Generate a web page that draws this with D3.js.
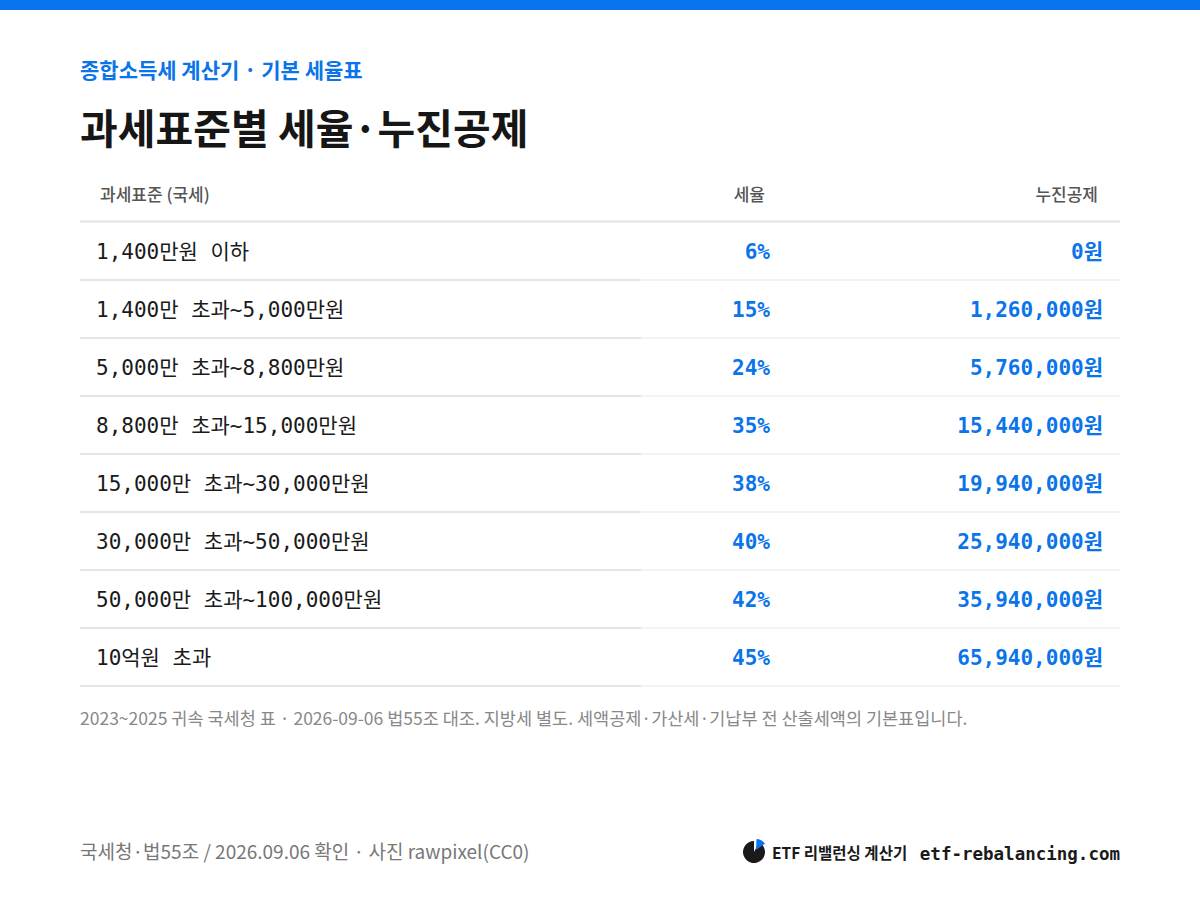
<!DOCTYPE html><html><head><meta charset="utf-8"><script src="https://cdn.jsdelivr.net/npm/d3@7"></script>
<style>body{margin:0;background:#fff}</style></head><body><svg id="c" width="1200" height="900"></svg>
<script>
const brackets=["1,400만원 이하","1,400만 초과~5,000만원","5,000만 초과~8,800만원","8,800만 초과~15,000만원","15,000만 초과~30,000만원","30,000만 초과~50,000만원","50,000만 초과~100,000만원","10억원 초과"];
const rates=[6,15,24,35,38,40,42,45];
const deductions=[0,1260000,5760000,15440000,19940000,25940000,35940000,65940000];
const headers=["과세표준 (국세)","세율","누진공제"];
const svg=d3.select("#c");
const K="'Noto Sans CJK KR','Noto Sans',sans-serif";
const M="'DejaVu Sans Mono','Noto Sans CJK KR',monospace";
const blue="#0a74ea";
svg.append("rect").attr("width",1200).attr("height",10).attr("fill","#0a74f0");
svg.append("text").attr("x",80).attr("y",78).attr("font-family",K).attr("font-weight",700).attr("font-size",21).attr("fill",blue).text("종합소득세 계산기 · 기본 세율표");
svg.append("text").attr("x",80).attr("y",144).attr("font-family",K).attr("font-weight",700).attr("font-size",41).attr("fill","#161616").text("과세표준별 세율·누진공제");
const y=d3.scaleBand().domain(d3.range(brackets.length)).range([222,686]);
const hx=[100,765,1098],anc=["start","end","end"];
headers.forEach((h,i)=>svg.append("text").attr("x",hx[i]).attr("y",201).attr("text-anchor",anc[i]).attr("font-family",K).attr("font-weight",500).attr("font-size",17).attr("fill","#555").text(h));
svg.append("line").attr("x1",80).attr("x2",1120).attr("y1",221.5).attr("y2",221.5).attr("stroke","#e2e2e2").attr("stroke-width",2);
const fmt=d3.format(",");
brackets.forEach((b,i)=>{
 const yc=y(i)+y.bandwidth()/2;
 svg.append("line").attr("x1",80).attr("x2",1120).attr("y1",y(i)+y.bandwidth()).attr("y2",y(i)+y.bandwidth()).attr("stroke","#efefef").attr("stroke-width",1.5);
 svg.append("line").attr("x1",80).attr("x2",641).attr("y1",y(i)+y.bandwidth()).attr("y2",y(i)+y.bandwidth()).attr("stroke","#e0e0e0").attr("stroke-width",1.5);
 svg.append("text").attr("x",96).attr("y",yc+8).attr("font-family",M).attr("font-size",21).attr("fill","#1a1a1a").text(b);
 svg.append("text").attr("x",770).attr("y",yc+8).attr("text-anchor","end").attr("font-family",M).attr("font-weight",700).attr("font-size",21).attr("fill",blue).text(rates[i]+"%");
 svg.append("text").attr("x",1103).attr("y",yc+8).attr("text-anchor","end").attr("font-family",M).attr("font-weight",700).attr("font-size",21).attr("fill",blue).text(fmt(deductions[i])+"원");
});
svg.append("text").attr("x",80).attr("y",725).attr("font-family",K).attr("font-size",17.5).attr("fill","#888").text("2023~2025 귀속 국세청 표 · 2026-09-06 법55조 대조. 지방세 별도. 세액공제·가산세·기납부 전 산출세액의 기본표입니다.");
svg.append("text").attr("x",80).attr("y",859).attr("font-family",K).attr("font-size",19).attr("fill","#777").text("국세청·법55조 / 2026.09.06 확인 · 사진 rawpixel(CC0)");
const g=svg.append("g").attr("transform","translate(754,852)");
g.append("path").attr("d",d3.arc().innerRadius(0).outerRadius(11)({startAngle:0.5,endAngle:Math.PI*2})).attr("fill","#1a1a1a");
g.append("path").attr("d",d3.arc().innerRadius(0).outerRadius(11)({startAngle:0.05,endAngle:0.95})).attr("fill","#0a74f0").attr("transform","translate(2,-2)");
svg.append("text").attr("x",772).attr("y",859).attr("font-family",K).attr("font-weight",700).attr("font-size",15.5).attr("fill","#1a1a1a").text("ETF 리밸런싱 계산기");
svg.append("text").attr("x",1120).attr("y",860).attr("text-anchor","end").attr("font-family",M).attr("font-weight",700).attr("font-size",17.5).attr("fill","#1a1a1a").text("etf-rebalancing.com");
</script></body></html>
